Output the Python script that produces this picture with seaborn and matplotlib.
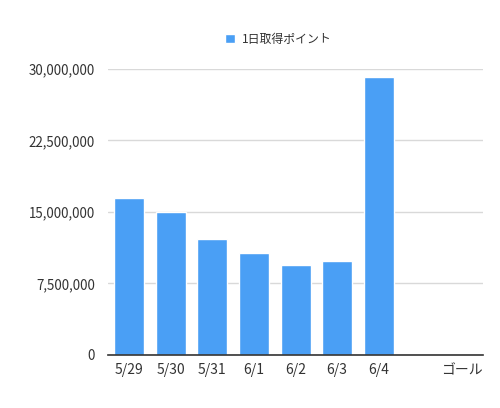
import numpy as np
import pandas as pd
import matplotlib.pyplot as plt
import matplotlib.ticker as mticker
import seaborn as sns

# Data
days = ["5/29", "5/30", "5/31", "6/1", "6/2", "6/3", "6/4", " ", "ゴール"]
points = [16440000, 15020000, 12170000, 10700000, 9410000, 9890000, 29190000, np.nan, np.nan]
series_name = "1日取得ポイント"

df = pd.DataFrame({"day": days, "points": points, "series": series_name})

sns.set_style("white")
plt.rcParams['font.family'] = ['Noto Sans CJK JP', 'DejaVu Sans']

bar_color = "#4a9ff5"
text_color = "#333333"

fig = plt.figure(figsize=(5, 4.08), dpi=100)
ax = fig.add_axes([0.216, 0.130, 0.75, 0.701])

sns.barplot(data=df, x="day", y="points", hue="series", order=days,
            palette=[bar_color], width=0.72, saturation=1, ax=ax, legend=True)

ax.set_ylim(0, 30000000)
ax.set_xlim(-0.5, len(days) - 0.5)
ax.yaxis.set_major_locator(mticker.MultipleLocator(7500000))
ax.yaxis.set_major_formatter(mticker.FuncFormatter(lambda v, p: f"{int(v):,}"))
ax.grid(axis="y", color="#d9d9d9", linewidth=1)
ax.set_axisbelow(True)

for s in ["top", "right", "left"]:
    ax.spines[s].set_visible(False)
ax.spines["bottom"].set_color("#333333")
ax.spines["bottom"].set_linewidth(1.2)

ax.tick_params(axis="both", length=0, labelsize=10, colors=text_color, pad=6)
ax.tick_params(axis="y", labelsize=9.6, pad=9.5)
ax.set_xlabel("")
ax.set_ylabel("")

leg = ax.legend(loc="lower center", bbox_to_anchor=(0.455, 1.065), frameon=False,
                handlelength=0.8, handleheight=0.8, handletextpad=0.6,
                fontsize=8.6, borderaxespad=0)
for t in leg.get_texts():
    t.set_color(text_color)

fig.savefig("out.png", dpi=100)
